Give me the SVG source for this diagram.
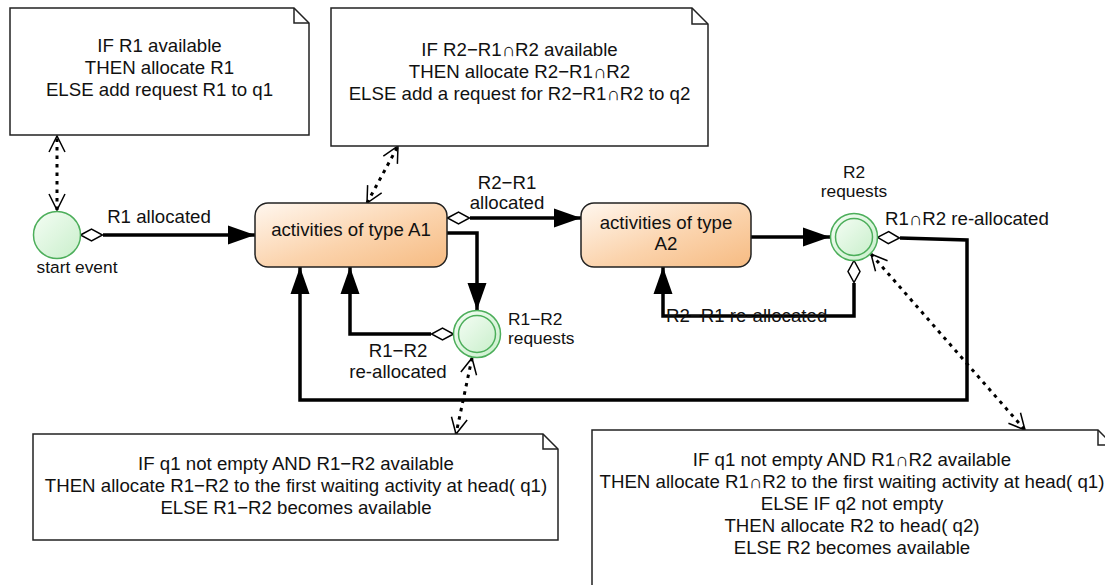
<svg xmlns="http://www.w3.org/2000/svg" width="1105" height="585" viewBox="0 0 1105 585">
<style>
text{font-family:"Liberation Sans",Arial,sans-serif;fill:#111}
.t{font-size:18.67px}
.ev{font-size:17.33px}
.mid{text-anchor:middle}
.note{fill:#fff;stroke:#222;stroke-width:1.5}
.fold{fill:none;stroke:#222;stroke-width:1.5}
.act{stroke:#222;stroke-width:1.5}
.evc{stroke:#4cae5a;stroke-width:1.5}
.c{fill:none;stroke:#000;stroke-width:3.5;stroke-linejoin:miter}
.flow{marker-end:url(#arr)}
.dia{marker-start:url(#dia)}
.dot{fill:none;stroke:#000;stroke-width:3;stroke-dasharray:3.5 5;marker-start:url(#open);marker-end:url(#open)}
</style>
<defs>
<linearGradient id="gAct" x1="0" y1="0" x2="1" y2="1">
<stop offset="0" stop-color="#fff7ef"/>
<stop offset="0.55" stop-color="#fbd3ac"/>
<stop offset="1" stop-color="#f6bb82"/>
</linearGradient>
<linearGradient id="gEv" x1="0" y1="0" x2="1" y2="1">
<stop offset="0" stop-color="#f4fdf4"/>
<stop offset="1" stop-color="#c9efcb"/>
</linearGradient>
<marker id="arr" markerUnits="userSpaceOnUse" markerWidth="28" markerHeight="20" refX="27" refY="9.5" orient="auto" overflow="visible">
<path d="M0,0 L27,9.5 L0,19 Z" fill="#000"/>
</marker>
<marker id="dia" markerUnits="userSpaceOnUse" markerWidth="24" markerHeight="14" refX="23" refY="6.5" orient="auto" overflow="visible">
<path d="M0.5,6.5 L11.5,0.5 L22.5,6.5 L11.5,12.5 Z" fill="#fff" stroke="#000" stroke-width="1.5"/>
</marker>
<marker id="open" markerUnits="userSpaceOnUse" markerWidth="20" markerHeight="20" refX="16" refY="8" orient="auto-start-reverse" overflow="visible">
<path d="M0,0 L16,8 L0,16" fill="none" stroke="#000" stroke-width="1.5"/>
</marker>
</defs>

<g id="connectors">
<path class="c flow dia" d="M103,235 L255,235"/>
<path class="c flow dia" d="M470,218 L581,218"/>
<path class="c flow" d="M447,233 L477,233 L477,310"/>
<path class="c flow dia" d="M431,334 L350,334 L350,267"/>
<path class="c flow" d="M751,237 L830,237"/>
<path class="c flow dia" d="M854,283 L854,316 L663,316 L663,267"/>
<path class="c flow dia" d="M900,238 L967,240 L967,400 L300,400 L300,267"/>
<path class="dot" d="M57,210 L57,136"/>
<path class="dot" d="M367,203 L398,146"/>
<path class="dot" d="M472,358 L456,434"/>
<path class="dot" d="M871,254 L1025,430"/>
<text class="t mid" x="159" y="223">R1 allocated</text>
<text class="t mid" x="507" y="189">R2−R1</text>
<text class="t mid" x="507" y="209">allocated</text>
<text class="t mid" x="398" y="357">R1−R2</text>
<text class="t mid" x="398" y="378">re-allocated</text>
<text class="t" x="885" y="225">R1∩R2 re-allocated</text>
<text class="t" x="666" y="322">R2−R1 re-allocated</text>
</g>

<g id="note1">
<path class="note" d="M10,8 H294 L309,23 V135 H10 Z"/>
<path class="fold" d="M294,8 V23 H309"/>
<text class="t mid" x="159.5" y="52">IF R1 available</text>
<text class="t mid" x="159.5" y="74">THEN allocate R1</text>
<text class="t mid" x="159.5" y="96">ELSE add request R1 to q1</text>
</g>

<g id="note2">
<path class="note" d="M331,8 H692 L708,24 V146 H331 Z"/>
<path class="fold" d="M692,8 V24 H708"/>
<text class="t mid" x="519.5" y="56">IF R2−R1∩R2 available</text>
<text class="t mid" x="519.5" y="78">THEN allocate R2−R1∩R2</text>
<text class="t mid" x="519.5" y="100">ELSE add a request for R2−R1∩R2 to q2</text>
</g>

<g id="note3">
<path class="note" d="M33,434 H543 L558,449 V540 H33 Z"/>
<path class="fold" d="M543,434 V449 H558"/>
<text class="t mid" x="296" y="470">IF q1 not empty AND R1−R2 available</text>
<text class="t mid" x="296" y="492">THEN allocate R1−R2 to the first waiting activity at head( q1)</text>
<text class="t mid" x="296" y="514">ELSE R1−R2 becomes available</text>
</g>

<g id="note4">
<path class="note" d="M592,430 H1098 L1113,445 V600 H592 Z"/>
<path class="fold" d="M1098,430 V445 H1113"/>
<text class="t mid" x="852" y="466">IF q1 not empty AND R1∩R2 available</text>
<text class="t mid" x="852" y="488">THEN allocate R1∩R2 to the first waiting activity at head( q1)</text>
<text class="t mid" x="852" y="510">ELSE IF q2 not empty</text>
<text class="t mid" x="852" y="532">THEN allocate R2 to head( q2)</text>
<text class="t mid" x="852" y="554">ELSE R2 becomes available</text>
</g>

<g id="start-event">
<circle class="evc" cx="57" cy="235" r="23.5" fill="url(#gEv)"/>
<text class="ev mid" x="77" y="273">start event</text>
</g>

<g id="activity-A1">
<rect class="act" x="255" y="203" width="192" height="64" rx="13" fill="url(#gAct)"/>
<text class="t mid" x="351" y="236">activities of type A1</text>
</g>

<g id="activity-A2">
<rect class="act" x="581" y="203" width="170" height="64" rx="13" fill="url(#gAct)"/>
<text class="t mid" x="666" y="229">activities of type</text>
<text class="t mid" x="666" y="250">A2</text>
</g>

<g id="event-A1-requests">
<circle class="evc" cx="477" cy="334" r="23.5" fill="url(#gEv)"/>
<circle class="evc" cx="477" cy="334" r="18.5" fill="url(#gEv)"/>
<text class="ev" x="508" y="325">R1−R2</text>
<text class="ev" x="508" y="344">requests</text>
</g>

<g id="event-A2-requests">
<circle class="evc" cx="854" cy="237" r="23.5" fill="url(#gEv)"/>
<circle class="evc" cx="854" cy="237" r="18.5" fill="url(#gEv)"/>
<text class="ev mid" x="854" y="178">R2</text>
<text class="ev mid" x="854" y="197">requests</text>
</g>
</svg>
